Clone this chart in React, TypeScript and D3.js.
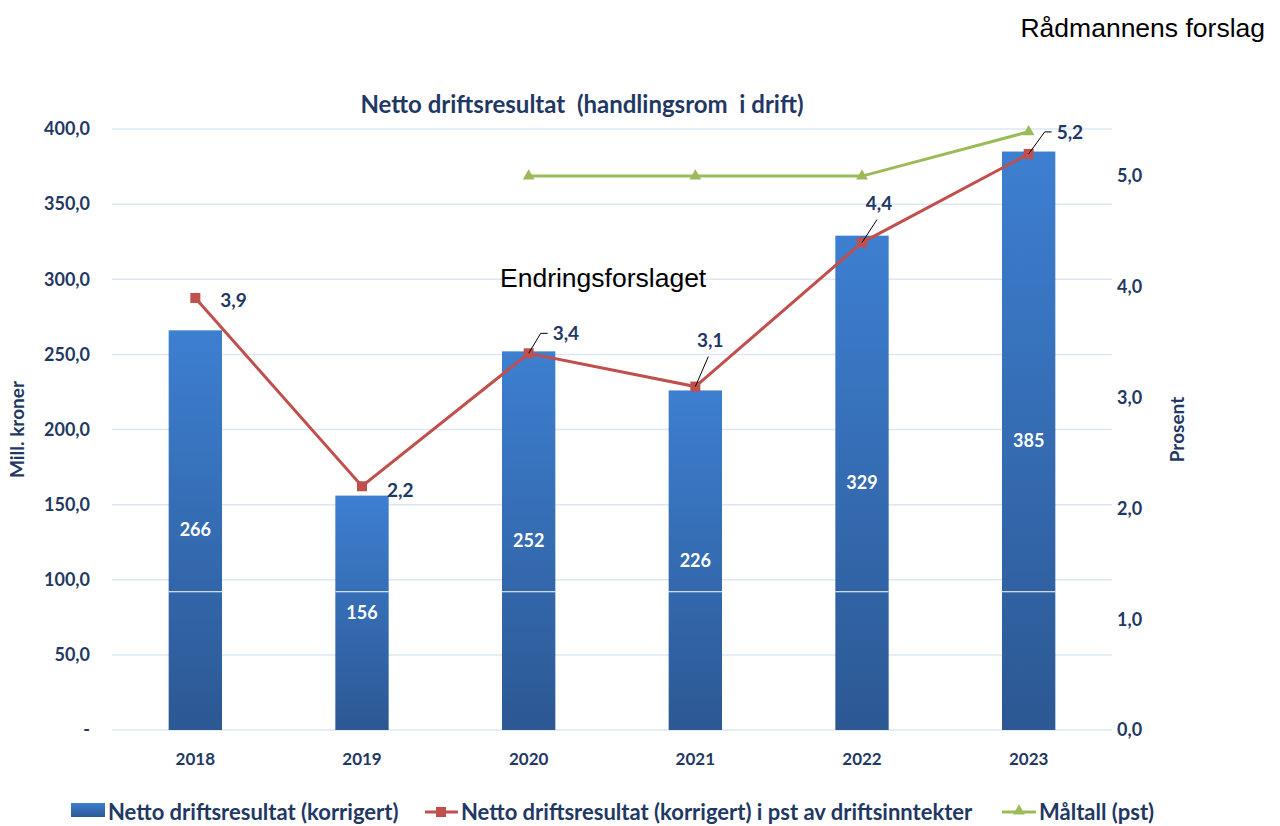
import React from "react";
import * as d3 from "d3";

const years = ["2018", "2019", "2020", "2021", "2022", "2023"];
const nettoMill = [266, 156, 252, 226, 329, 385];
const nettoPst = [3.9, 2.2, 3.4, 3.1, 4.4, 5.2];
const maaltallYears = ["2020", "2021", "2022", "2023"];
const maaltallPst = [5.0, 5.0, 5.0, 5.4];
const leftTicks = [0, 50, 100, 150, 200, 250, 300, 350, 400];
const rightTicks = [0, 1, 2, 3, 4, 5];

const NAVY = "#1f3864";
const RED = "#c0504d";
const GREEN = "#9bbb59";
const FONT = "Lato, 'Open Sans', sans-serif";
const ARIAL = "'Liberation Sans', Arial, sans-serif";

const locale = d3.formatLocale({ decimal: ",", thousands: " ", grouping: [3], currency: ["", " kr"] });
const fmt1 = locale.format(".1f");

// label placement for the red line (offset of label from point)
const labelOffsets = [
  { dx: 33, dy: 2, leader: false, elbow: false },
  { dx: 33, dy: 4, leader: false, elbow: false },
  { dx: 32, dy: -20, leader: true, elbow: true },
  { dx: 15, dy: -40, leader: true, elbow: false },
  { dx: 17, dy: -33, leader: true, elbow: false },
  { dx: 36, dy: -22, leader: true, elbow: true },
];

const App = () => {
  const margin = { left: 112, right: 168, top: 129, bottom: 96 };
  const width = 1280;
  const height = 826;
  const plotW = width - margin.left - margin.right;
  const y0 = height - margin.bottom;

  const x = d3
    .scaleBand()
    .domain(years)
    .range([margin.left, margin.left + plotW])
    .paddingInner(0.68)
    .paddingOuter(0.34);
  const yL = d3.scaleLinear().domain([0, 400]).range([y0, margin.top]);
  const yR = d3.scaleLinear().domain([0, 5.425]).range([y0, margin.top]);
  const cx = (yr: string) => (x(yr) as number) + x.bandwidth() / 2;

  const line = d3.line<[number, number]>().x((d) => d[0]).y((d) => d[1]);
  const redPts: [number, number][] = years.map((yr, i) => [cx(yr), yR(nettoPst[i])]);
  const greenPts: [number, number][] = maaltallYears.map((yr, i) => [cx(yr), yR(maaltallPst[i])]);
  const tri = d3.symbol().type(d3.symbolTriangle).size(60)();

  return (
    <svg width={width} height={height} style={{ position: "absolute", left: 0, top: 0, background: "#fff" }}>
      <defs>
        <linearGradient id="barGrad" x1="0" y1="0" x2="0" y2="1">
          <stop offset="0%" stopColor="#3d7fd1" />
          <stop offset="100%" stopColor="#2c5893" />
        </linearGradient>
      </defs>

      <text x={1265} y={37} textAnchor="end" fontFamily={ARIAL} fontSize={26.5} fill="#000">
        Rådmannens forslag
      </text>

      <text x={582} y={113} textAnchor="middle" fontFamily={FONT} fontWeight="bold" fontSize={24} fill={NAVY} style={{ whiteSpace: "pre" }}>
        {"Netto driftsresultat  (handlingsrom  i drift)"}
      </text>

      {/* gridlines */}
      {leftTicks.map((t) => (
        <line key={"g" + t} x1={margin.left} x2={margin.left + plotW} y1={yL(t)} y2={yL(t)} stroke="#dde7f3" strokeWidth={1.5} />
      ))}

      {/* left axis */}
      {leftTicks.map((t) => (
        <text key={"l" + t} x={90} y={yL(t)} dy="0.35em" textAnchor="end" fontFamily={FONT} fontWeight="bold" fontSize={18} fill={NAVY}>
          {t === 0 ? "-" : fmt1(t)}
        </text>
      ))}
      <text transform={`translate(24, ${(margin.top + y0) / 2}) rotate(-90)`} textAnchor="middle" fontFamily={FONT} fontWeight="bold" fontSize={19} fill={NAVY}>
        Mill. kroner
      </text>

      {/* right axis */}
      {rightTicks.map((t) => (
        <text key={"r" + t} x={1117} y={yR(t)} dy="0.35em" textAnchor="start" fontFamily={FONT} fontWeight="bold" fontSize={18} fill={NAVY}>
          {fmt1(t)}
        </text>
      ))}
      <text transform={`translate(1184, ${(margin.top + y0) / 2}) rotate(-90)`} textAnchor="middle" fontFamily={FONT} fontWeight="bold" fontSize={19} fill={NAVY}>
        Prosent
      </text>

      {/* bars */}
      {years.map((yr, i) => (
        <g key={"b" + yr}>
          <rect x={x(yr)} y={yL(nettoMill[i])} width={x.bandwidth()} height={y0 - yL(nettoMill[i])} fill="url(#barGrad)" />
          <line x1={x(yr)} x2={(x(yr) as number) + x.bandwidth()} y1={yL(92)} y2={yL(92)} stroke="#fff" strokeWidth={1.2} />
          <text x={cx(yr)} y={(yL(nettoMill[i]) + y0) / 2} dy="0.35em" textAnchor="middle" fontFamily={FONT} fontWeight="bold" fontSize={18} fill="#fff">
            {nettoMill[i]}
          </text>
        </g>
      ))}

      {/* x labels */}
      {years.map((yr) => (
        <text key={"x" + yr} x={cx(yr)} y={765} textAnchor="middle" fontFamily={FONT} fontWeight="bold" fontSize={17} fill={NAVY}>
          {yr}
        </text>
      ))}

      {/* green target line */}
      <path d={line(greenPts) || ""} fill="none" stroke={GREEN} strokeWidth={3} />
      {greenPts.map((p, i) => (
        <path key={"gt" + i} d={tri || ""} transform={`translate(${p[0]},${p[1]})`} fill={GREEN} />
      ))}

      {/* red percentage line */}
      <path d={line(redPts) || ""} fill="none" stroke={RED} strokeWidth={3} />
      {redPts.map((p, i) => (
        <rect key={"rm" + i} x={p[0] - 5} y={p[1] - 5} width={10} height={10} fill={RED} />
      ))}
      {redPts.map((p, i) => {
        const o = labelOffsets[i];
        const lx = p[0] + o.dx;
        const ly = p[1] + o.dy;
        return (
          <g key={"rl" + i}>
            {o.leader && (
              <path
                d={
                  o.elbow
                    ? `M${p[0]},${p[1]} L${lx - 20},${ly} L${lx - 13},${ly}`
                    : `M${p[0]},${p[1]} L${lx - 2},${ly + 10}`
                }
                fill="none"
                stroke="#000"
                strokeWidth={1}
              />
            )}
            <text
              x={o.leader && !o.elbow ? lx : lx - 8}
              y={ly}
              dy={o.leader && !o.elbow ? "0" : "0.35em"}
              textAnchor={o.leader && !o.elbow ? "middle" : "start"}
              fontFamily={FONT}
              fontWeight="bold"
              fontSize={19}
              fill={NAVY}
            >
              {fmt1(nettoPst[i])}
            </text>
          </g>
        );
      })}

      <text x={500} y={287} fontFamily={ARIAL} fontSize={26.5} fill="#000">
        Endringsforslaget
      </text>

      {/* legend */}
      <g fontFamily={FONT} fontWeight="bold" fontSize={22} fill={NAVY}>
        <rect x={71} y={803} width={34} height={14} fill="url(#barGrad)" />
        <text x={108} y={820}>Netto driftsresultat (korrigert)</text>
        <line x1={425} x2={458} y1={812} y2={812} stroke={RED} strokeWidth={3} />
        <rect x={436} y={807} width={10} height={10} fill={RED} />
        <text x={461} y={820}>Netto driftsresultat (korrigert) i pst av driftsinntekter</text>
        <line x1={1002} x2={1036} y1={812} y2={812} stroke={GREEN} strokeWidth={3} />
        <path d={tri || ""} transform="translate(1019,811)" fill={GREEN} />
        <text x={1039} y={820}>Måltall (pst)</text>
      </g>
    </svg>
  );
};

export default App;
